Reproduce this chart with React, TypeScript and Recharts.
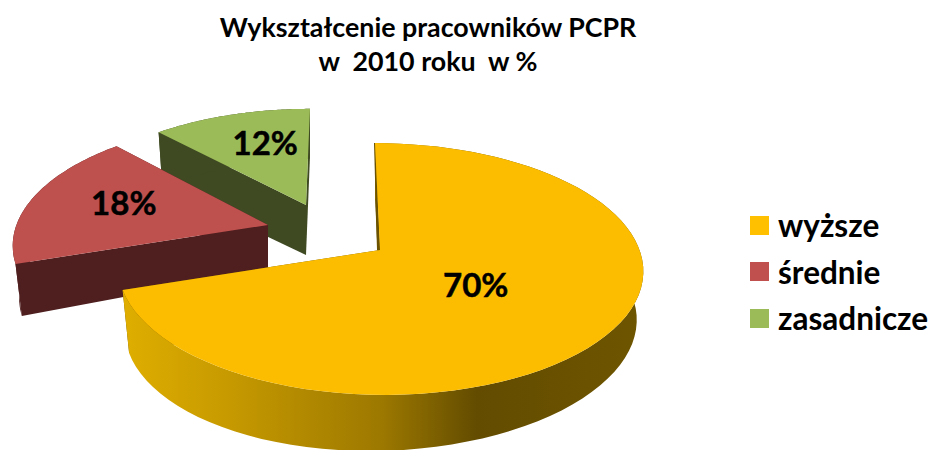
import { PieChart, Pie, Legend } from 'recharts';

const FONT = 'Lato, Carlito, sans-serif';

const categories = ['wyższe', 'średnie', 'zasadnicze'];
const shares = [70, 18, 12];
const topColors = ['#fcbd00', '#be504e', '#9bbb59'];
const legendColors = ['#ffc000', '#c0504d', '#9bbb59'];
const titleLines = ['Wykształcenie pracowników PCPR', 'w  2010 roku  w %'];

// drawn back to front: the big slice has to cover the two smaller ones
const data = categories
  .map((name, i) => ({ name, value: shares[i], fill: topColors[i], legendColor: legendColors[i] }))
  .reverse();

// how far each slice is pulled out of the pie and how it looks in "3D"
const looks: Record<string, any> = {
  'wyższe': { dx: 0, dy: 0, scale: 1, xScale: 1.006, skew: 5, depth: 56, side: 'url(#sideGold)', edge: '#6a5200', labelAt: 0.45, lx: -4, ly: 0 },
  'średnie': { dx: -112, dy: -25, scale: 0.975, xScale: 1, skew: -5, depth: 45, side: '#4f1f1f', edge: '#4f1f1f', labelAt: 0.6, lx: -2, ly: -5 },
  'zasadnicze': { dx: -74, dy: -45, scale: 0.9, xScale: 1.05, skew: -4, depth: 50, side: '#3f4a23', edge: '#3f4a23', labelAt: 0.55, lx: 3, ly: -10 },
};

const X_RATIO = 2.58;
const Y_RATIO = 1.23;
const PERSPECTIVE = 0.151;
const TILT = 0.028;

function project(props: any, look: any, angle: number, frac: number) {
  const rad = (angle * Math.PI) / 180;
  const u = Math.cos(rad) * frac;
  const v = -Math.sin(rad) * frac;
  const w = 1 - PERSPECTIVE * v;
  const r = props.outerRadius * look.scale;
  return {
    x: props.cx + look.dx + (r * look.xScale * X_RATIO * u) / w + look.skew * v,
    y: props.cy + look.dy + (r * Y_RATIO * v) / w,
  };
}

function lower(props: any, look: any, p: { x: number; y: number }) {
  const ox = props.cx + look.dx;
  return { x: ox + (p.x - ox) * 0.975, y: p.y + look.depth - TILT * (p.x - ox) };
}

const toPath = (pts: { x: number; y: number }[]) =>
  pts.map((p, i) => `${i ? 'L' : 'M'}${p.x.toFixed(1)} ${p.y.toFixed(1)}`).join(' ') + ' Z';

function SliceShape(props: any) {
  const look = looks[props.name];
  const rim: { x: number; y: number }[] = [];
  const steps = 80;
  for (let i = 0; i <= steps; i++) {
    const a = props.startAngle + ((props.endAngle - props.startAngle) * i) / steps;
    rim.push(project(props, look, a, 1));
  }
  const apex = project(props, look, 0, 0);
  const first = rim[0];
  const last = rim[rim.length - 1];
  const strip = [...rim, ...rim.map((p) => lower(props, look, p)).reverse()];
  return (
    <g>
      <defs>
        <linearGradient id="sideGold" x1="0" y1="0" x2="1" y2="0">
          <stop offset="0" stopColor="#dfae00" />
          <stop offset="0.2" stopColor="#c79a00" />
          <stop offset="0.5" stopColor="#9c7800" />
          <stop offset="0.68" stopColor="#634c00" />
          <stop offset="1" stopColor="#6e5500" />
        </linearGradient>
      </defs>
      <path d={toPath([apex, first, lower(props, look, first), lower(props, look, apex)])} fill={look.edge} />
      <path d={toPath([apex, last, lower(props, look, last), lower(props, look, apex)])} fill={look.edge} />
      <path d={toPath(strip)} fill={look.side} />
      {props.name === 'wyższe' && (
        <path
          d={toPath([apex, last, { x: last.x - 1, y: last.y }, { x: apex.x - 3, y: apex.y }])}
          fill={look.edge}
        />
      )}
      <path d={toPath([apex, ...rim])} fill={props.fill} />
    </g>
  );
}

function SliceLabel(props: any) {
  const look = looks[props.name];
  const p = project(props, look, props.midAngle, look.labelAt);
  return (
    <text
      x={p.x + look.lx}
      y={p.y + look.ly}
      textAnchor="middle"
      dominantBaseline="central"
      fontFamily={FONT}
      fontWeight={700}
      fontSize={33}
      fill="#000"
      stroke="#000"
      strokeWidth={0.5}
    >
      {props.value}%
    </text>
  );
}

function LegendList({ payload }: any) {
  const items = categories.map((name) => (payload || []).find((item: any) => item.value === name)).filter(Boolean);
  return (
    <div style={{ fontFamily: FONT, fontWeight: 700, fontSize: 31.5, color: '#000' }}>
      {items.map((item: any) => (
        <div key={item.value} style={{ display: 'flex', alignItems: 'center', height: 46.5, whiteSpace: 'nowrap' }}>
          <span
            style={{
              width: 19,
              height: 19,
              marginRight: 9,
              background: item.payload.legendColor,
              display: 'inline-block',
            }}
          />
          {item.value}
        </div>
      ))}
    </div>
  );
}

export default function App() {
  return (
    <div style={{ position: 'absolute', left: 0, top: 0, width: 931, height: 450, background: '#fff' }}>
      <PieChart width={931} height={450} margin={{ top: 0, right: 0, bottom: 0, left: 0 }}>
        <text x={428} y={37} textAnchor="middle" fontFamily={FONT} fontWeight={700} fontSize={26.8}>
          {titleLines[0]}
        </text>
        <text x={428} y={71} textAnchor="middle" fontFamily={FONT} fontWeight={700} fontSize={26.8} xmlSpace="preserve">
          {titleLines[1]}
        </text>
        <Pie
          data={data}
          dataKey="value"
          nameKey="name"
          cx={380}
          cy={250}
          outerRadius={100}
          startAngle={90}
          endAngle={450}
          stroke="none"
          shape={SliceShape}
          label={SliceLabel}
          labelLine={false}
          isAnimationActive={false}
        />
        <Legend
          layout="vertical"
          align="right"
          verticalAlign="top"
          content={LegendList}
          wrapperStyle={{ left: 750, top: 202, width: 181 }}
        />
      </PieChart>
    </div>
  );
}
